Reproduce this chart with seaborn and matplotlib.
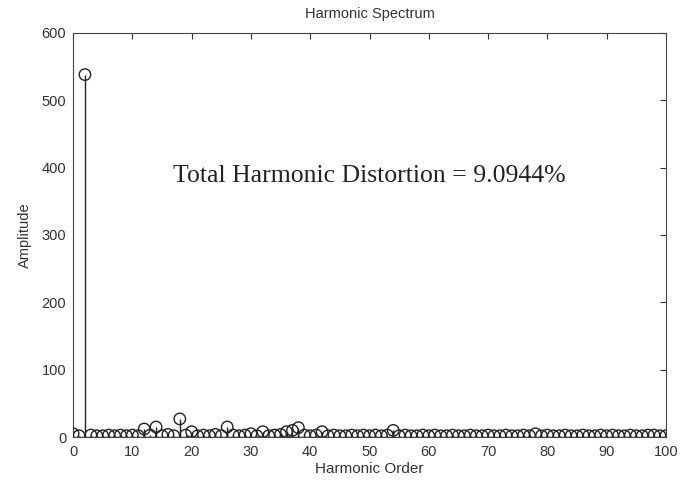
import numpy as np
import pandas as pd
import matplotlib
matplotlib.use("Agg")
import matplotlib.pyplot as plt
import seaborn as sns

# Harmonic orders 0..100 and amplitudes
orders = list(range(0, 101))
amplitudes = [
    5, 2, 538, 3, 2, 2, 3, 2, 3, 2,    # 0-9
    3, 2, 12, 3, 15, 2, 4, 2, 27, 3,   # 10-19
    8, 2, 3, 2, 4, 2, 15, 3, 2, 3,     # 20-29
    5, 2, 8, 2, 3, 4, 8, 10, 14, 3,    # 30-39
    2, 3, 8, 2, 3, 2, 2, 3, 2, 3,      # 40-49
    2, 3, 2, 3, 10, 2, 3, 2, 2, 3,     # 50-59
    2, 3, 2, 2, 3, 2, 2, 3, 2, 2,      # 60-69
    3, 2, 2, 3, 2, 2, 3, 2, 5, 2,      # 70-79
    3, 2, 2, 3, 2, 2, 3, 2, 2, 3,      # 80-89
    2, 3, 2, 2, 3, 2, 2, 3, 3, 2, 2,   # 90-100
]
x_ticks = [0, 10, 20, 30, 40, 50, 60, 70, 80, 90, 100]
y_ticks = [0, 100, 200, 300, 400, 500, 600]
title = "Harmonic Spectrum"
xlabel = "Harmonic Order"
ylabel = "Amplitude"
annotation = "Total Harmonic Distortion = 9.0944%"

df = pd.DataFrame({"order": orders, "amp": amplitudes})

sns.set_style("white")
plt.rcParams["font.family"] = ["Liberation Sans", "DejaVu Sans"]

fig = plt.figure(figsize=(6.83, 4.83), dpi=100)
ax = fig.add_axes([0.107, 0.095, 0.868, 0.837])

# stems
ax.vlines(df["order"], 0, df["amp"], color="#222222", linewidth=1.0, zorder=2)
# baseline
ax.axhline(0, color="#222222", linewidth=1.0, zorder=2)
# circle markers
sns.scatterplot(data=df, x="order", y="amp", ax=ax, marker="o", s=68,
                facecolor="none", edgecolor="#222222", linewidth=1.0,
                legend=False, zorder=3)

ax.set_xlim(0, 100)
ax.set_ylim(0, 600)
ax.set_xticks(x_ticks)
ax.set_yticks(y_ticks)
ax.tick_params(axis="both", direction="in", length=4, width=0.8,
               top=True, right=True, labelsize=10.5, colors="#333333",
               labelcolor="#333333")
ax.tick_params(axis="x", pad=6)
ax.tick_params(axis="y", pad=5)
for sp in ax.spines.values():
    sp.set_color("#444444")
    sp.set_linewidth(0.8)
    sp.set_visible(True)

ax.set_title(title, fontsize=10.5, color="#333333", pad=11)
ax.set_xlabel(xlabel, fontsize=11, color="#333333", labelpad=2)
ax.set_ylabel(ylabel, fontsize=10.5, color="#333333", labelpad=7)

ax.text(50, 388, annotation, ha="center", va="center", fontsize=18.5,
        family=["Liberation Serif", "DejaVu Serif"], color="#222222")

fig.savefig("out.png", dpi=100, facecolor="white")
